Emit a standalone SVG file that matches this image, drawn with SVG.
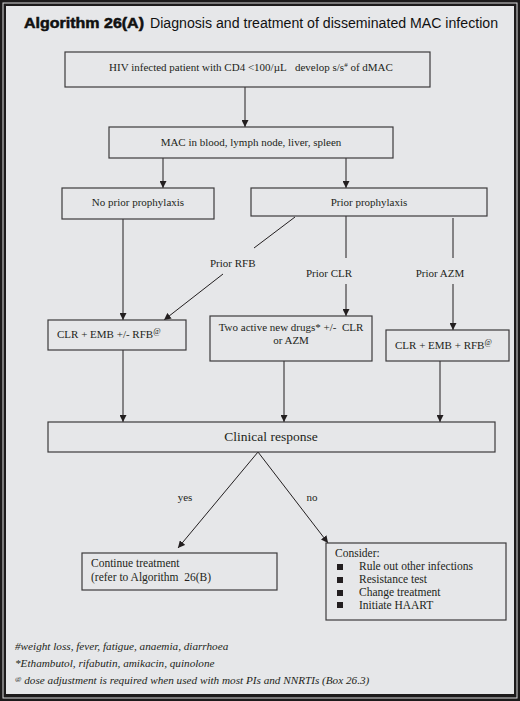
<svg xmlns="http://www.w3.org/2000/svg" width="520" height="701" viewBox="0 0 520 701">
<defs>
<marker id="ah" viewBox="0 0 10 10" refX="10" refY="5" markerWidth="7" markerHeight="7" markerUnits="userSpaceOnUse" orient="auto">
<path d="M0,0 L10,5 L0,10 z" fill="#231f20"/>
</marker>
<style>
.box{fill:#e6e7e9;stroke:#3c3b3c;stroke-width:1.2}
.t{font-family:"Liberation Serif","Times New Roman",serif;font-size:11px;fill:#231f20}
.t12{font-size:11.5px}
.t14{font-size:13.5px}
.c{text-anchor:middle}
.ln{fill:none;stroke:#231f20;stroke-width:1}
.ar{fill:none;stroke:#231f20;stroke-width:1;marker-end:url(#ah)}
.fn{font-family:"Liberation Serif","Times New Roman",serif;font-size:11.2px;font-style:italic;fill:#231f20}
.ttl{font-family:"Liberation Sans",Arial,sans-serif;font-size:14px;fill:#111}
.sup{font-size:7px}
</style>
</defs>
<rect x="0" y="0" width="520" height="701" fill="#1c1a1b"/>
<rect x="3" y="3" width="514" height="695" fill="none" stroke="#d9dadc" stroke-width="1"/>
<rect x="6" y="6" width="508" height="688" fill="#e6e7e9"/>

<g id="title">
<text class="ttl" x="24" y="28" textLength="120" lengthAdjust="spacingAndGlyphs" style="font-weight:bold;stroke:#111;stroke-width:0.5">Algorithm 26(A)</text>
<text class="ttl" x="150" y="28" textLength="348" lengthAdjust="spacingAndGlyphs">Diagnosis and treatment of disseminated MAC infection</text>
</g>

<g id="connectors">
<line class="ar" x1="245" y1="87" x2="245" y2="127"/>
<line class="ar" x1="163" y1="158" x2="163" y2="188"/>
<line class="ar" x1="346" y1="158" x2="346" y2="188"/>
<line class="ar" x1="123" y1="219" x2="123" y2="320"/>
<line class="ln" x1="295" y1="217" x2="254" y2="248"/>
<line class="ar" x1="223" y1="274" x2="164" y2="320"/>
<line class="ln" x1="346" y1="214" x2="346" y2="258"/>
<line class="ar" x1="346" y1="284" x2="346" y2="316"/>
<line class="ln" x1="453" y1="218" x2="453" y2="258"/>
<line class="ar" x1="453" y1="284" x2="453" y2="330"/>
<line class="ar" x1="123" y1="350" x2="123" y2="422"/>
<line class="ar" x1="284" y1="361" x2="284" y2="422"/>
<line class="ar" x1="440" y1="361" x2="440" y2="422"/>
<line class="ar" x1="258" y1="452" x2="178" y2="548"/>
<line class="ar" x1="258" y1="452" x2="328" y2="543"/>
<text class="t" x="210" y="267">Prior RFB</text>
<text class="t c" x="329" y="277">Prior CLR</text>
<text class="t c" x="440" y="277">Prior AZM</text>
<text class="t c" x="185" y="501">yes</text>
<text class="t c" x="312" y="501">no</text>
</g>

<g id="n1">
<rect class="box" x="65" y="52" width="365" height="35"/>
<text class="t c" x="251" y="71">HIV infected patient with CD4 &lt;100/µL&#160;&#160; develop s/s<tspan class="sup" dy="-4">#</tspan><tspan dy="4"> of dMAC</tspan></text>
</g>
<g id="n2">
<rect class="box" x="109" y="127" width="284" height="31"/>
<text class="t c" x="251" y="146">MAC in blood, lymph node, liver, spleen</text>
</g>
<g id="n3">
<rect class="box" x="62" y="188" width="152" height="31"/>
<text class="t c" x="138" y="206">No prior prophylaxis</text>
</g>
<g id="n4">
<rect class="box" x="251" y="188" width="236" height="28"/>
<text class="t c" x="369" y="206">Prior prophylaxis</text>
</g>
<g id="n5">
<rect class="box" x="48" y="320" width="138" height="30"/>
<text class="t" x="57" y="338">CLR + EMB +/- RFB<tspan style="font-size:8px" dy="-4">@</tspan></text>
</g>
<g id="n6">
<rect class="box" x="210" y="316" width="162" height="45"/>
<text class="t c" x="291" y="331">Two active new drugs* +/-&#160; CLR</text>
<text class="t c" x="291" y="344">or AZM</text>
</g>
<g id="n7">
<rect class="box" x="386" y="330" width="123" height="31"/>
<text class="t" x="395" y="349">CLR + EMB + RFB<tspan style="font-size:8px" dy="-4">@</tspan></text>
</g>
<g id="n8">
<rect class="box" x="48" y="422" width="447" height="30"/>
<text class="t t14 c" x="271" y="441">Clinical response</text>
</g>
<g id="n9">
<rect class="box" x="82" y="553" width="195" height="37"/>
<text class="t t12" x="91" y="567">Continue treatment</text>
<text class="t t12" x="91" y="581">(refer to Algorithm&#160; 26(B)</text>
</g>
<g id="n10">
<rect class="box" x="326" y="543" width="180" height="77"/>
<text class="t t12" x="335" y="557">Consider:</text>
<rect x="337" y="564" width="6" height="6" fill="#231f20"/>
<rect x="337" y="577" width="6" height="6" fill="#231f20"/>
<rect x="337" y="590" width="6" height="6" fill="#231f20"/>
<rect x="337" y="602" width="6" height="6" fill="#231f20"/>
<text class="t t12" x="359" y="570">Rule out other infections</text>
<text class="t t12" x="359" y="583">Resistance test</text>
<text class="t t12" x="359" y="596">Change treatment</text>
<text class="t t12" x="359" y="609">Initiate HAART</text>
</g>

<g id="footnotes">
<text class="fn" x="15" y="650">#weight loss, fever, fatigue, anaemia, diarrhoea</text>
<text class="fn" x="15" y="667">*Ethambutol, rifabutin, amikacin, quinolone</text>
<text class="fn" x="15" y="684"><tspan class="sup" dy="-3">@</tspan><tspan dy="3"> dose adjustment is required when used with most PIs and NNRTIs (Box 26.3)</tspan></text>
</g>
</svg>
